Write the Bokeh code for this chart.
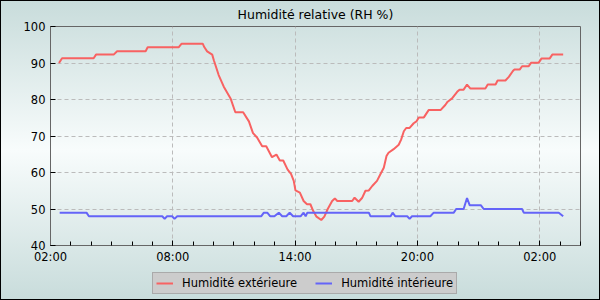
from datetime import datetime, timedelta
from bokeh.plotting import figure
from bokeh.layouts import column
from bokeh.models import (Range1d, FixedTicker, DatetimeTickFormatter, Legend, LegendItem)
from bokeh.embed import file_html
from bokeh.resources import INLINE

title_text = "Humidité relative (RH %)"
series_names = ["Humidité extérieure", "Humidité intérieure"]
series_colors = ["#f86262", "#6464f8"]

ext_times = ["02:25", "02:34", "04:07", "04:14", "05:06", "05:16", "06:40", "06:46",
             "08:17", "08:26", "09:28", "09:33", "09:41", "09:56", "10:01", "10:15",
             "10:30", "10:50", "11:04", "11:27", "11:44", "11:56", "12:08", "12:23",
             "12:35", "12:52", "13:05", "13:15", "13:25", "13:38", "13:48", "13:56",
             "14:01", "14:14", "14:25", "14:35", "14:45", "14:53", "15:03", "15:17",
             "15:26", "15:36", "15:49", "15:57", "16:04", "16:48", "16:55", "17:07",
             "17:17", "17:27", "17:37", "17:47", "18:01", "18:11", "18:21", "18:29",
             "18:35", "18:50", "19:05", "19:12", "19:20", "19:27", "19:37", "19:49",
             "19:57", "20:04", "20:19", "20:33", "21:08", "21:22", "21:29", "21:42",
             "21:57", "22:04", "22:16", "22:26", "22:36", "23:20", "23:27", "23:50",
             "23:56", "00:19", "00:29", "00:41", "00:45", "01:01", "01:08", "01:27",
             "01:35", "01:57", "02:05", "02:29", "02:37", "03:09"]
ext_values = [90.0, 91.3, 91.3, 92.3, 92.3, 93.2, 93.2, 94.3,
              94.3, 95.3, 95.3, 94.3, 93.2, 92.3, 90.7, 86.7,
              83.5, 80.3, 76.5, 76.5, 74.0, 70.8, 69.6, 67.2,
              67.2, 64.2, 64.9, 63.3, 63.3, 60.8, 59.6, 57.7,
              55.1, 54.5, 52.2, 51.3, 51.3, 49.5, 47.9, 47.0,
              47.9, 50.0, 52.2, 52.9, 52.2, 52.2, 53.1, 52.0,
              53.0, 55.0, 55.1, 56.3, 57.7, 59.5, 61.3, 64.5,
              65.4, 66.4, 67.6, 69.0, 71.3, 72.2, 72.2, 73.5,
              74.0, 75.1, 75.1, 77.1, 77.1, 78.5, 79.4, 80.3,
              82.1, 82.7, 82.7, 84.1, 83.0, 83.0, 84.1, 84.1,
              85.2, 85.2, 86.2, 87.8, 88.2, 88.2, 89.1, 89.1,
              90.1, 90.1, 91.2, 91.2, 92.3, 92.3]

int_times = ["02:27", "03:46", "03:53", "07:29", "07:36", "07:43", "07:58", "08:05",
             "08:13", "12:20", "12:28", "12:38", "12:47", "12:59", "13:12", "13:22",
             "13:34", "13:44", "13:54", "14:16", "14:25", "14:31", "14:36", "17:37",
             "17:42", "18:41", "18:47", "18:55", "19:30", "19:37", "19:44", "20:38",
             "20:48", "21:47", "21:54", "22:16", "22:26", "22:34", "23:07", "23:15",
             "01:08", "01:13", "02:56", "03:09"]
int_values = [49, 49, 48, 48, 47.3, 48, 48, 47.3,
              48, 48, 49, 49, 48, 48, 49, 48,
              48, 49, 48, 48, 49, 48, 49, 49,
              48, 48, 49, 48, 48, 47.3, 48, 48,
              49, 49, 50, 50, 53, 51, 51, 50,
              50, 49, 49, 48]

x_tick_labels = ["02:00", "08:00", "14:00", "20:00", "02:00"]
x_range_times = ["02:00", "04:00"]
y_ticks = [40, 50, 60, 70, 80, 90, 100]

BASE = datetime(2024, 1, 1)
EPOCH = datetime(1970, 1, 1)


def to_dt(times, day0=0):
    out, day, prev = [], day0, None
    for t in times:
        h, m = map(int, t.split(":"))
        mins = h * 60 + m
        if prev is not None and mins < prev:
            day += 1
        prev = mins
        out.append(BASE + timedelta(days=day, hours=h, minutes=m))
    return out


def ms(d):
    return (d - EPOCH).total_seconds() * 1000.0


ext_dt = to_dt(ext_times)
int_dt = to_dt(int_times)
tick_dt = to_dt(x_tick_labels)
x_start = to_dt([x_range_times[0]])[0]
x_end = to_dt([x_range_times[1]], day0=1)[0]

minor = []
d = x_start
while d <= x_end:
    minor.append(ms(d))
    d += timedelta(hours=1)

FONT = "DejaVu Sans"

# ---- main chart ----
p = figure(width=600, height=270, x_axis_type="datetime",
           x_range=Range1d(x_start, x_end), y_range=Range1d(40, 100),
           output_backend="svg", toolbar_location=None,
           min_border_left=50, min_border_right=20, min_border_top=24,
           min_border_bottom=25)
p.border_fill_color = None
p.background_fill_color = None

p.title.text = title_text
p.title.align = "center"
p.title.text_font = FONT
p.title.text_font_size = "12.5px"
p.title.text_font_style = "normal"
p.title.text_color = "#000"
p.title.standoff = 9

p.outline_line_color = "#666666"
p.outline_line_width = 1

p.xaxis.ticker = FixedTicker(ticks=[ms(t) for t in tick_dt], minor_ticks=minor)
p.xaxis.formatter = DatetimeTickFormatter(minutes="%H:%M", hourmin="%H:%M", hours="%H:%M",
                                          days="%H:%M", months="%H:%M", years="%H:%M")
p.yaxis.ticker = FixedTicker(ticks=y_ticks)

for ax in (p.xaxis[0], p.yaxis[0]):
    ax.axis_line_color = "#666666"
    ax.major_tick_in = 5
    ax.major_tick_out = 0
    ax.minor_tick_in = 4
    ax.minor_tick_out = 0
    ax.major_tick_line_color = "#000"
    ax.minor_tick_line_color = "#000"
    ax.major_label_text_font = FONT
    ax.major_label_text_font_size = "11.5px"
    ax.major_label_text_color = "#000"
p.yaxis.minor_tick_line_color = None
p.yaxis.major_label_standoff = 5
p.xaxis.major_label_standoff = 4

p.grid.grid_line_color = "#bbbbbb"
p.grid.grid_line_dash = "4 3"
p.grid.grid_line_width = 1
p.xgrid.ticker = p.xaxis[0].ticker
p.ygrid.ticker = p.yaxis[0].ticker

p.line(ext_dt, ext_values, line_color=series_colors[0], line_width=2)
p.line(int_dt, int_values, line_color=series_colors[1], line_width=2)

# ---- legend strip (same series, drawn outside this strip's visible ranges) ----
q = figure(width=600, height=30, x_range=Range1d(0, 1), y_range=Range1d(0, 1),
           output_backend="svg", toolbar_location=None,
           x_axis_location=None, y_axis_location=None,
           min_border=0)
q.border_fill_color = None
q.background_fill_color = None
q.outline_line_color = None
q.grid.visible = False
k1 = q.line(ext_dt, ext_values, line_color=series_colors[0], line_width=2)
k2 = q.line(int_dt, int_values, line_color=series_colors[1], line_width=2)

legend = Legend(items=[LegendItem(label=series_names[0], renderers=[k1]),
                       LegendItem(label=series_names[1], renderers=[k2])],
                orientation="horizontal", location=(102, 6))
legend.background_fill_color = "#cccccc"
legend.background_fill_alpha = 1
legend.border_line_color = "#888888"
legend.label_text_font = FONT
legend.label_text_font_size = "11.5px"
legend.label_text_color = "#000"
legend.glyph_width = 17
legend.glyph_height = 12
legend.label_height = 12
legend.label_standoff = 9
legend.spacing = 18
legend.padding = 3
legend.margin = 0
q.add_layout(legend, "center")

layout = column(p, q, spacing=0)
layout.styles = {"background": "linear-gradient(to bottom, #c8dcdb 0%, #f8fcfc 50%, #c8dcdb 100%)",
                 "box-shadow": "inset 0 0 0 1px #000"}

open("out.html", "w").write(file_html(layout, INLINE))
